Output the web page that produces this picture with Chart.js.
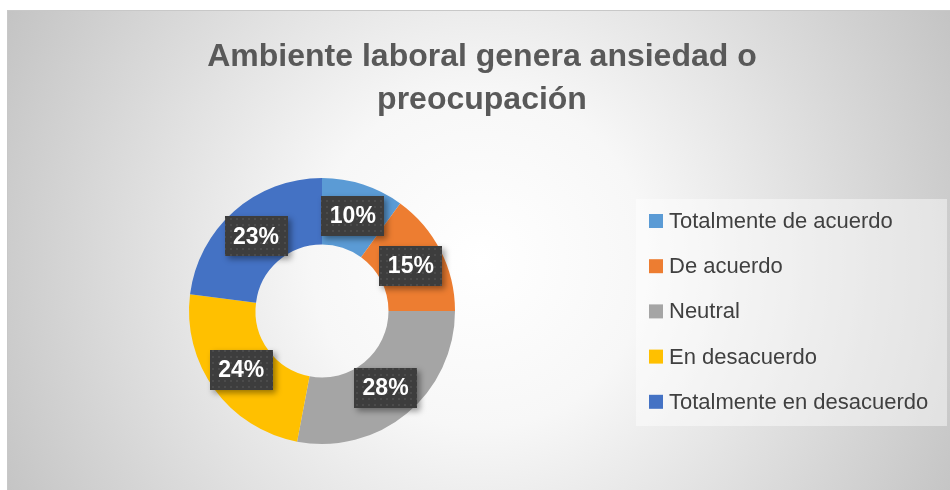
<!DOCTYPE html>
<html>
<head>
<meta charset="utf-8">
<script src="https://cdn.jsdelivr.net/npm/chart.js@4"></script>
<style>
  html, body { margin: 0; padding: 0; background: #fff; }
  #wrap { width: 950px; height: 490px; position: relative; }
</style>
</head>
<body>
<div id="wrap"><canvas id="chart" width="950" height="490"></canvas></div>
<script>
const titleLines = ["Ambiente laboral genera ansiedad o", "preocupación"];
const categories = ["Totalmente de acuerdo", "De acuerdo", "Neutral", "En desacuerdo", "Totalmente en desacuerdo"];
const percentages = [10, 15, 28, 24, 23];
const sliceColors = ["#5B9BD5", "#ED7D31", "#A5A5A5", "#FFC000", "#4472C4"];

const FONT = "'Liberation Sans', Arial, sans-serif";

// dotted dark fill used by the data label boxes
function makeDotPattern(ctx) {
  const tile = document.createElement("canvas");
  tile.width = 6; tile.height = 6;
  const t = tile.getContext("2d");
  t.fillStyle = "#3d3d3d";
  t.fillRect(0, 0, 6, 6);
  t.fillStyle = "#4b4b4b";
  t.fillRect(2, 2, 2, 2);
  return ctx.createPattern(tile, "repeat");
}

const backdrop = {
  id: "backdrop",
  beforeDraw(chart) {
    const ctx = chart.ctx;
    ctx.save();
    ctx.fillStyle = "#fff";
    ctx.fillRect(0, 0, chart.width, chart.height);
    const g = ctx.createRadialGradient(480, 260, 0, 480, 260, 560);
    g.addColorStop(0, "#ffffff");
    g.addColorStop(0.3, "#f7f7f7");
    g.addColorStop(1, "#c0c0c0");
    ctx.fillStyle = g;
    ctx.fillRect(7, 10, chart.width - 7, chart.height - 10);
    ctx.strokeStyle = "#c8c8c8";
    ctx.lineWidth = 1;
    ctx.strokeRect(7.5, 10.5, chart.width, chart.height);

    // title
    ctx.fillStyle = "#595959";
    ctx.font = "bold 32px " + FONT;
    ctx.textAlign = "center";
    ctx.textBaseline = "middle";
    ctx.fillText(titleLines[0], 482, 57);
    ctx.fillText(titleLines[1], 482, 100);

    // legend
    ctx.fillStyle = "rgba(255,255,255,0.45)";
    ctx.fillRect(636, 199, 311, 227);
    ctx.font = "22px " + FONT;
    ctx.textAlign = "left";
    categories.forEach((c, i) => {
      const y = 221 + i * 45.2;
      ctx.fillStyle = sliceColors[i];
      ctx.fillRect(649, y - 7, 14, 14);
      ctx.fillStyle = "#404040";
      ctx.fillText(c, 669, y + 1);
    });
    ctx.restore();
  }
};

const sliceLabels = {
  id: "sliceLabels",
  afterDatasetsDraw(chart) {
    const ctx = chart.ctx;
    const meta = chart.getDatasetMeta(0);
    const pattern = makeDotPattern(ctx);
    ctx.save();
    meta.data.forEach((arc, i) => {
      const p = arc.tooltipPosition();
      const w = 63, h = 40;
      const x = Math.round(p.x - w / 2), y = Math.round(p.y - h / 2);
      ctx.save();
      ctx.shadowColor = "rgba(0,0,0,0.4)";
      ctx.shadowBlur = 6;
      ctx.shadowOffsetX = 3;
      ctx.shadowOffsetY = 3;
      ctx.fillStyle = "#3d3d3d";
      ctx.fillRect(x, y, w, h);
      ctx.restore();
      ctx.fillStyle = pattern;
      ctx.fillRect(x, y, w, h);
      ctx.fillStyle = "#ffffff";
      ctx.font = "bold 23px " + FONT;
      ctx.textAlign = "center";
      ctx.textBaseline = "middle";
      ctx.fillText(percentages[i] + "%", p.x, p.y + 1);
    });
    ctx.restore();
  }
};

new Chart(document.getElementById("chart"), {
  type: "doughnut",
  data: {
    labels: categories,
    datasets: [{
      data: percentages,
      backgroundColor: sliceColors,
      borderWidth: 0,
    }],
  },
  options: {
    responsive: false,
    animation: false,
    cutout: "50%",
    layout: { padding: { left: 189, right: 495, top: 178, bottom: 46 } },
    plugins: {
      legend: { display: false },
      title: { display: false },
      tooltip: { enabled: false },
    },
  },
  plugins: [backdrop, sliceLabels],
});
</script>
</body>
</html>
